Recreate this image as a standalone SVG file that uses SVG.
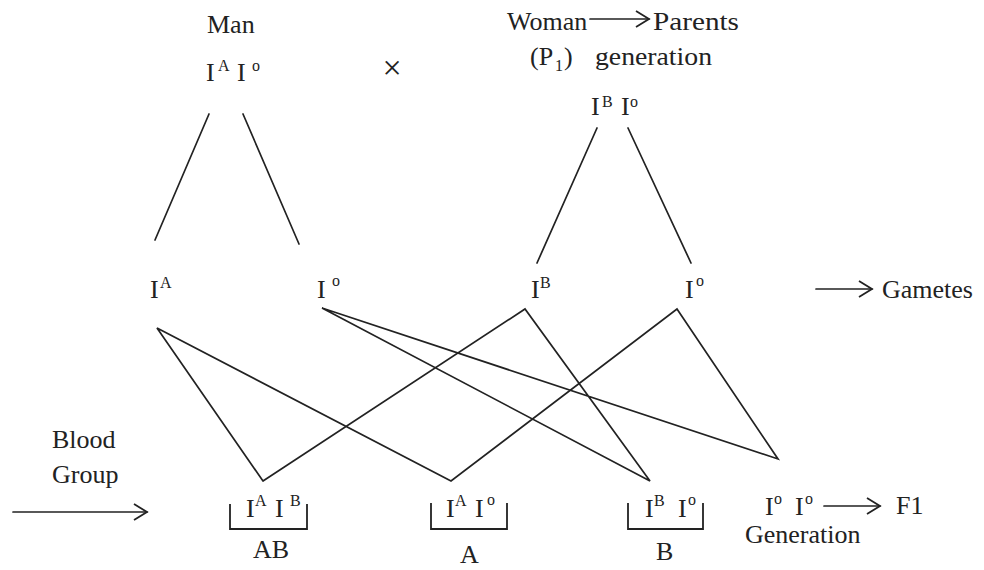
<svg xmlns="http://www.w3.org/2000/svg" width="984" height="570" viewBox="0 0 984 570">
<defs>
<marker id="ah" markerWidth="20" markerHeight="20" refX="18" refY="10" orient="auto" markerUnits="userSpaceOnUse">
<path d="M5,2 L18,10 L5,18" fill="none" stroke="#222" stroke-width="1.8"/>
</marker>
</defs>
<rect width="984" height="570" fill="#fff"/>
<g font-family="Liberation Serif" fill="#222" font-size="26">
<g id="man">
<text x="207" y="33">Man</text>
<text x="206" y="81">I</text><text font-size="16" x="218" y="71">A</text>
<text x="237" y="81">I</text><text font-size="16" x="252" y="71">o</text>
</g>
<g id="cross"><text x="392" y="79" text-anchor="middle" font-size="34">×</text></g>
<g id="woman">
<text x="507" y="30">Woman</text>
<text x="653" y="30" textLength="86" lengthAdjust="spacingAndGlyphs">Parents</text>
<text x="530" y="65">(P</text><text font-size="16" x="555" y="71">1</text><text x="564" y="65">)</text>
<text x="595" y="65" textLength="117" lengthAdjust="spacingAndGlyphs">generation</text>
<text x="591" y="115">I</text><text font-size="16" x="602" y="107">B</text>
<text x="621" y="115">I</text><text font-size="16" x="630" y="107">o</text>
</g>
<g id="gamete-ia"><text x="150" y="298">I</text><text font-size="16" x="160" y="288">A</text></g>
<g id="gamete-io-man"><text x="317" y="298">I</text><text font-size="16" x="332" y="286">o</text></g>
<g id="gamete-ib"><text x="531" y="298">I</text><text font-size="16" x="540" y="288">B</text></g>
<g id="gamete-io-woman"><text x="685" y="298">I</text><text font-size="16" x="696" y="286">o</text></g>
<g id="gametes-label"><text x="882" y="298">Gametes</text></g>
<g id="blood-group"><text x="52" y="448">Blood</text><text x="52" y="483">Group</text></g>
<g id="child-ab">
<text x="246" y="517">I</text><text font-size="16" x="255" y="506">A</text>
<text x="275" y="517">I</text><text font-size="16" x="290" y="506">B</text>
<text x="253" y="558">AB</text>
</g>
<g id="child-a">
<text x="446" y="517">I</text><text font-size="16" x="455" y="506">A</text>
<text x="475" y="517">I</text><text font-size="16" x="487" y="505">o</text>
<text x="460" y="563">A</text>
</g>
<g id="child-b">
<text x="645" y="517">I</text><text font-size="16" x="654" y="506">B</text>
<text x="678" y="517">I</text><text font-size="16" x="688" y="505">o</text>
<text x="656" y="560">B</text>
</g>
<g id="child-oo">
<text x="765" y="515">I</text><text font-size="16" x="774" y="504">o</text>
<text x="795" y="515">I</text><text font-size="16" x="805" y="504">o</text>
<text x="896" y="514">F1</text>
<text x="745" y="543">Generation</text>
</g>
</g>
<g id="brackets" stroke="#222" stroke-width="1.8" fill="none">
<path d="M230,504 V529 H307 V504"/>
<path d="M431,503 V529 H507 V503"/>
<path d="M628,503 V529 H703 V503"/>
</g>
<g id="connectors" stroke="#222" stroke-width="1.7" fill="none" stroke-linecap="round">
<line x1="209" y1="114" x2="155" y2="240"/>
<line x1="243" y1="114" x2="299" y2="244"/>
<line x1="597" y1="128" x2="537" y2="263"/>
<line x1="628" y1="128" x2="691" y2="263"/>
<polyline points="263,481 157,328 451,481 677,309 778,459 322,308 650,481 525,309 263,481"/>
<line x1="590" y1="19" x2="649" y2="19" marker-end="url(#ah)"/>
<line x1="816" y1="289" x2="872" y2="289" marker-end="url(#ah)"/>
<line x1="13" y1="512" x2="147" y2="512" marker-end="url(#ah)"/>
<line x1="824" y1="506" x2="880" y2="506" marker-end="url(#ah)"/>
</g>
</svg>
